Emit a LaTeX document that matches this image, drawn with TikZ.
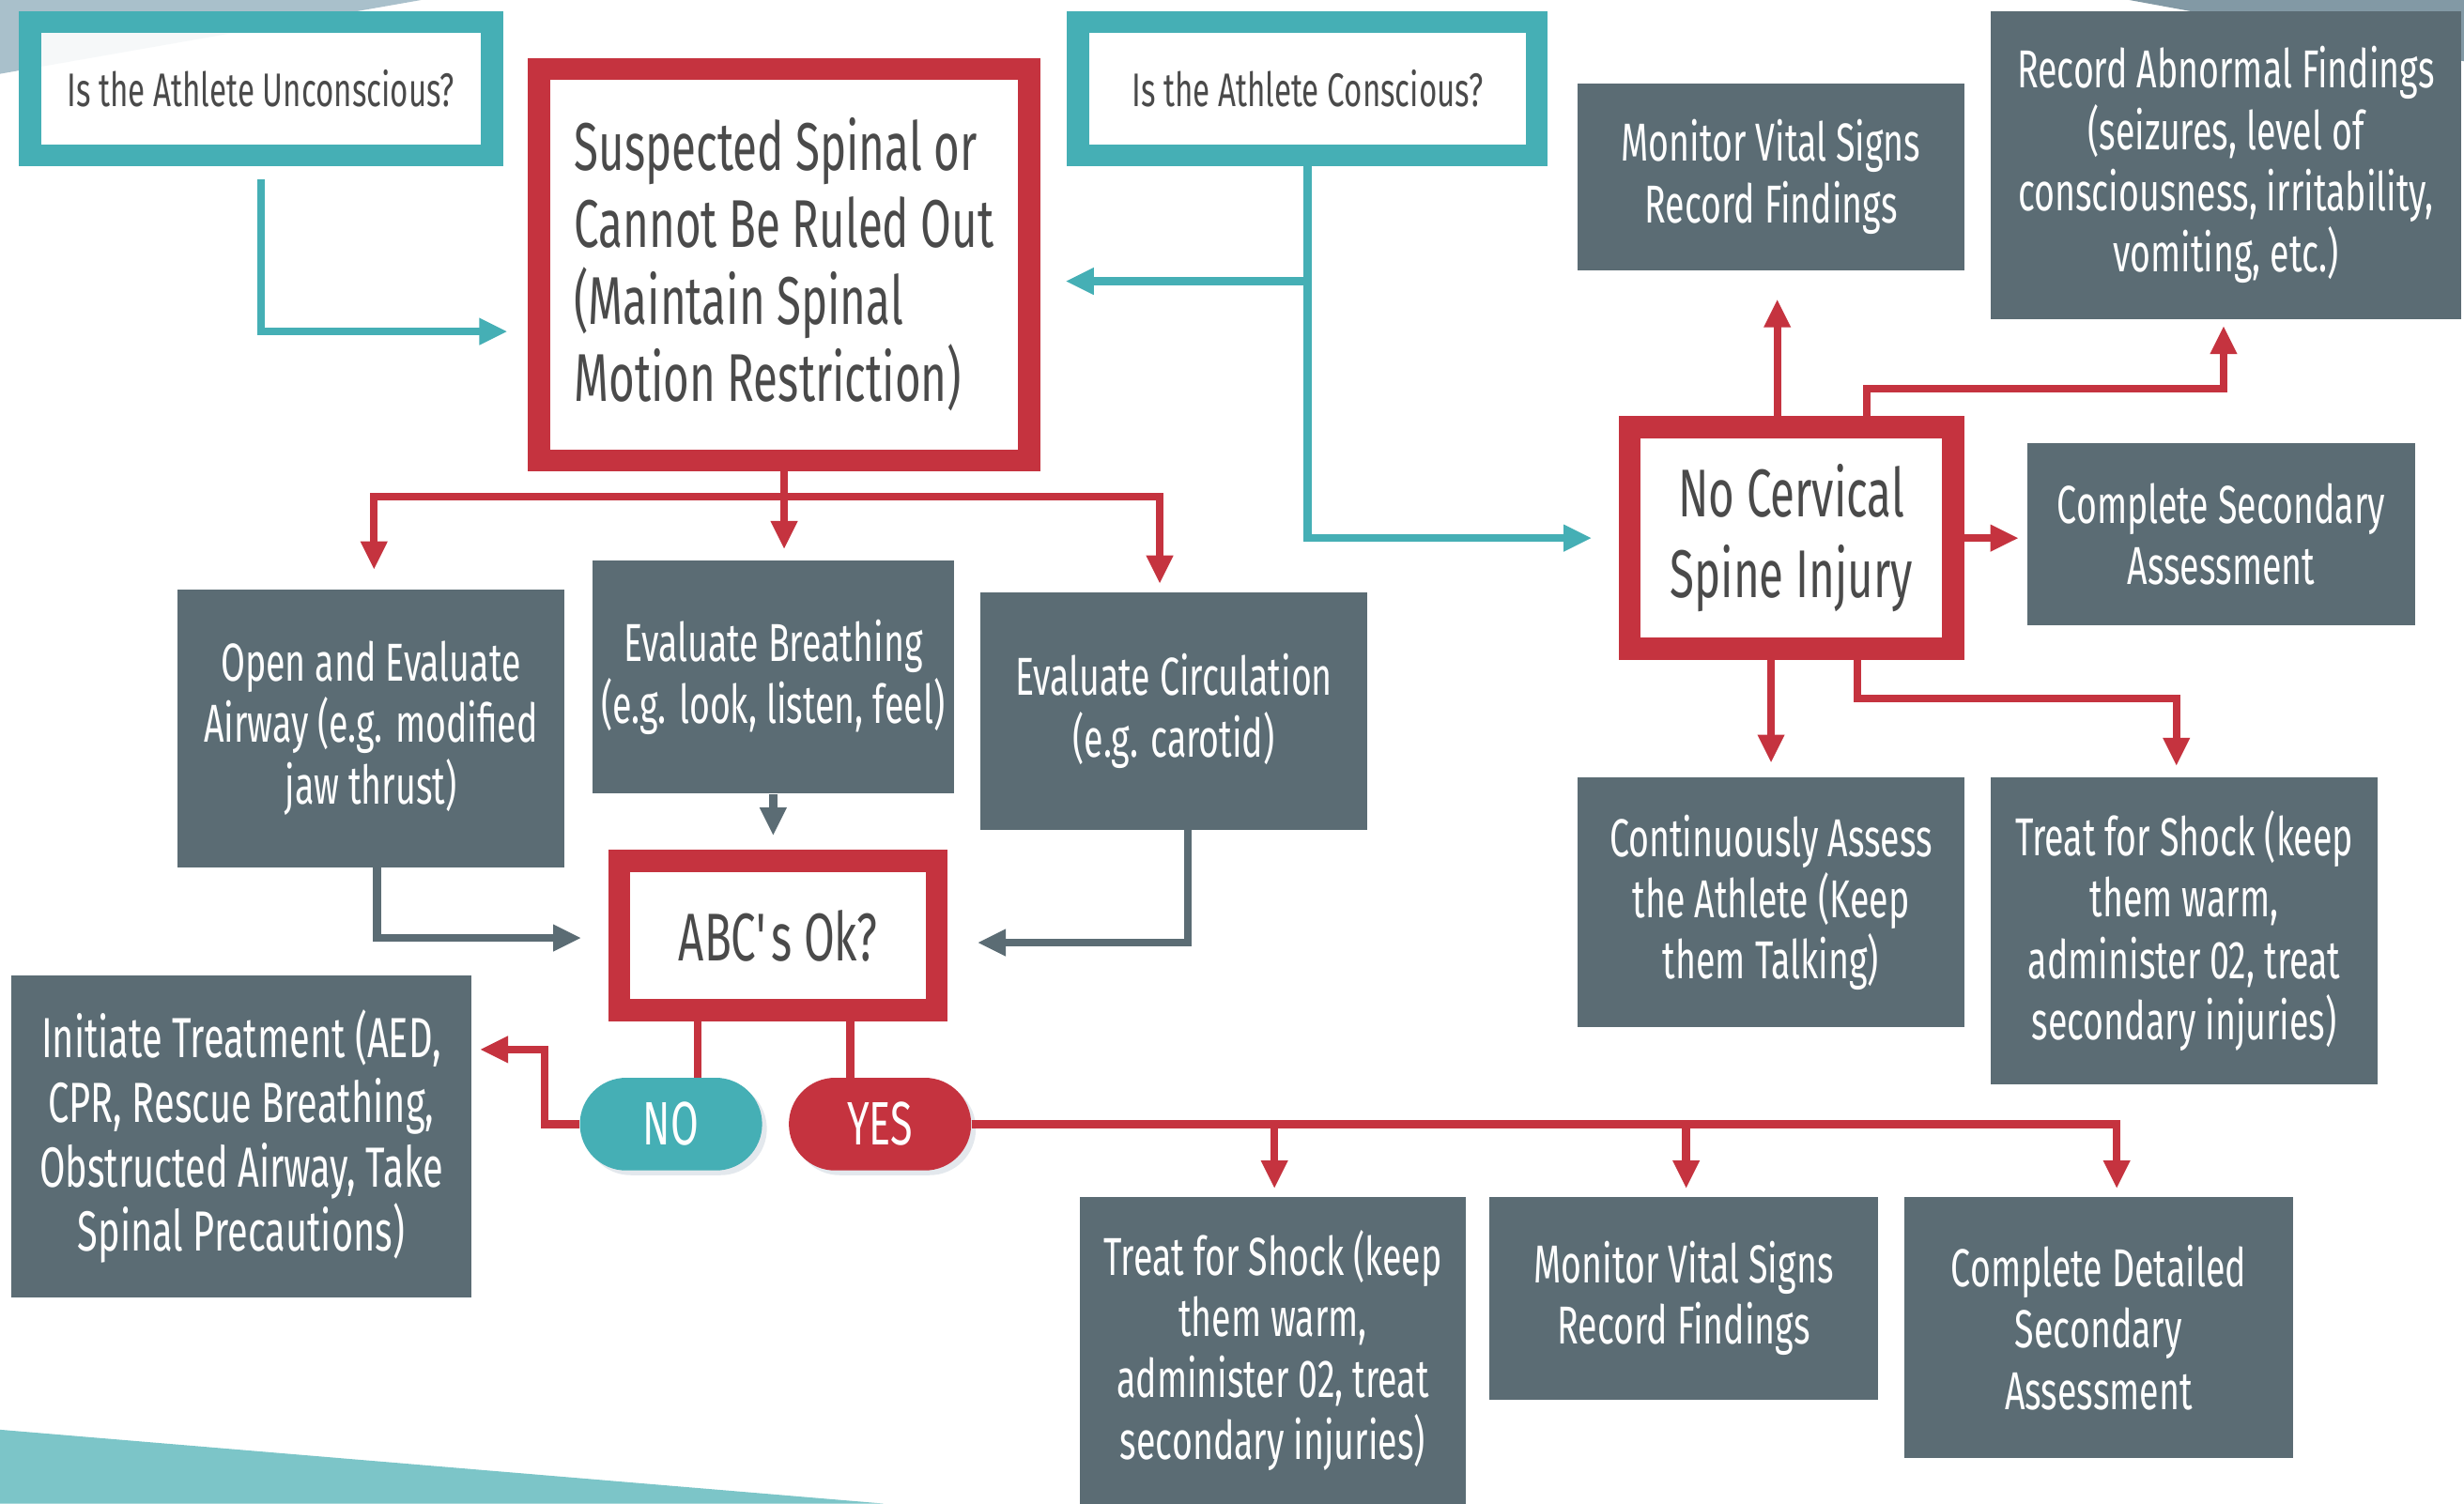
\documentclass[tikz,border=0pt]{standalone}
\usepackage{fontspec}
\setmainfont{Fira Sans}[FakeStretch=0.66]
\usetikzlibrary{arrows.meta,calc,shadows}
\definecolor{tealc}{HTML}{45AFB5}
\definecolor{redc}{HTML}{C5333F}
\definecolor{slatec}{HTML}{5B6C74}
\definecolor{inkc}{HTML}{4A4A4A}
\definecolor{shadowc}{HTML}{C9D3DC}
\definecolor{cornerc}{HTML}{A9C0CB}
\definecolor{cornerdk}{HTML}{8299A5}
\definecolor{wavec}{HTML}{7CC5C8}
\tikzset{
  qbox/.style={draw=tealc, line width=7pt, fill=white, fill opacity=0.9, text opacity=1,
    text=inkc, minimum width=147pt, minimum height=42.5pt,
    font=\fontsize{15}{18}\selectfont},
  redbox/.style={draw=redc, line width=7pt, fill=white, text=inkc,
    font=\fontsize{21.5}{24.5}\selectfont},
  greybox/.style={fill=slatec, text=white, align=center, inner sep=0pt,
    minimum width=123pt, font=\fontsize{17}{19.5}\selectfont},
  pill/.style={rounded corners=14.75pt, minimum width=58pt, minimum height=29.5pt,
    inner sep=0pt, text=white, font=\fontsize{19.5}{20}\selectfont,
    drop shadow={shadow xshift=1.5pt, shadow yshift=-1.5pt, fill=shadowc}},
  tealarr/.style={draw=tealc, line width=2.5pt, -{Triangle[length=9pt,width=8pt]}},
  redline/.style={draw=redc, line width=2.5pt},
  redarr/.style={redline, -{Triangle[length=9pt,width=8pt]}},
  greyarr/.style={draw=slatec, line width=2.5pt, -{Triangle[length=9pt,width=8pt]}}
}
\begin{document}
\begin{tikzpicture}[x=0.5pt, y=-0.5pt]
  \useasboundingbox (0,0) rectangle (1568,957);
  \fill[white] (0,0) rectangle (1568,957);
  \fill[cornerc] (0,0) -- (268,0) -- (0,47) -- cycle;
  \fill[cornerdk] (1355,0) -- (1568,0) -- (1568,39) -- cycle;
  \fill[wavec] (0,910) -- (562,957) -- (0,957) -- cycle;

  \node[qbox] (unc) at (166,56.5) {Is the Athlete Unconscious?};
  \node[qbox, minimum width=146pt] (con) at (832,56.5) {Is the Athlete Conscious?};
  \node[redbox, align=left, minimum width=156pt, minimum height=124.5pt] (susp) at (499,168.5)
    {Suspected Spinal or\\Cannot Be Ruled Out\\(Maintain Spinal\\Motion Restriction)};
  \node[redbox, align=center, minimum width=103pt, minimum height=70.5pt,
    font=\fontsize{21.5}{25.5}\selectfont] (nocerv) at (1140,342.5) {No Cervical\\Spine Injury};
  \node[redbox, minimum width=101pt, minimum height=47.5pt] (abc) at (495,595.5)
    {ABC\textquotesingle s Ok?};

  \node[greybox, minimum height=59.5pt] (mon1) at (1127,112.5) {Monitor Vital Signs\\Record Findings};
  \node[greybox, minimum width=149.5pt, minimum height=98pt] (rec) at (1416.5,105)
    {Record Abnormal Findings\\(seizures, level of\\consciousness, irritability,\\vomiting, etc.)};
  \node[greybox, minimum width=123.5pt, minimum height=58pt] (compsec) at (1413.5,340)
    {Complete Secondary\\Assessment};
  \node[greybox, minimum height=88.5pt] (airway) at (236,463.5)
    {Open and Evaluate\\Airway (e.g. modified\\jaw thrust)};
  \node[greybox, minimum width=115pt, minimum height=74pt] (breath) at (492,431)
    {Evaluate Breathing\\(e.g. look, listen, feel)};
  \node[greybox, minimum height=75.5pt] (circ) at (747,452.5) {Evaluate Circulation\\(e.g. carotid)};
  \node[greybox, minimum height=79.5pt] (cont) at (1127,574.5)
    {Continuously Assess\\the Athlete (Keep\\them Talking)};
  \node[greybox, minimum height=97.5pt] (shock1) at (1390,592.5)
    {Treat for Shock (keep\\them warm,\\administer 02, treat\\secondary injuries)};
  \node[greybox, minimum width=146.5pt, minimum height=102.5pt,
    font=\fontsize{18}{20.5}\selectfont] (init) at (153.5,723.5)
    {Initiate Treatment (AED,\\CPR, Rescue Breathing,\\Obstructed Airway, Take\\Spinal Precautions)};
  \node[greybox, minimum height=97.5pt] (shock2) at (810,859.5)
    {Treat for Shock (keep\\them warm,\\administer 02, treat\\secondary injuries)};
  \node[greybox, minimum width=123.5pt, minimum height=64.5pt] (mon2) at (1071.5,826.5)
    {Monitor Vital Signs\\Record Findings};
  \node[greybox, minimum width=123.5pt, minimum height=83pt] (detail) at (1335.5,845)
    {Complete Detailed\\Secondary\\Assessment};

  \draw[redline] ($(abc.south)+(-51,0)$) -- ($(abc.south)+(-51,36)$);
  \draw[redline] ($(abc.south)+(46,0)$) -- ($(abc.south)+(46,36)$);
  \node[pill, fill=tealc] (no) at (427,715.5) {NO};
  \node[pill, fill=redc] (yes) at (560,715.5) {YES};

  \draw[tealarr] ([yshift=-4pt]unc.south) |- ($(susp.west)+(-13,42.5)$);
  \draw[tealarr] (con.south) |- ($(nocerv.west)+(-17,0)$);
  \draw[tealarr] ($(con.south |- susp.east)+(0,10.5)$) -- ($(susp.east)+(16,10.5)$);

  \coordinate (sb) at ($(susp.south)+(0,16)$);
  \draw[redarr] (sb) -| ($(airway.north)+(2,-12)$);
  \draw[redarr] (sb) -| ($(circ.north)+(-9,-5)$);
  \draw[redarr] (susp.south) -- ($(susp.south |- breath.north)+(0,-7)$);

  \draw[redarr] ($(nocerv.north)+(-9,0)$) -- ($(nocerv.north |- mon1.south)+(-9,18)$);
  \draw[redarr] ($(nocerv.north)+(48,0)$) |- ($(rec.south)+(-1.5,44)$) -- ($(rec.south)+(-1.5,4)$);
  \draw[redarr] (nocerv.east) -- ($(nocerv.east -| compsec.west)+(-5,0)$);
  \draw[redarr] (nocerv.south -| cont.north) -- ($(cont.north)+(0,-9)$);
  \draw[redarr] ($(nocerv.south)+(42,0)$) |- ($(shock1.north)+(-5,-50)$) -- ($(shock1.north)+(-5,-7)$);

  \draw[redarr] (no.west) -- ++(-22,0) |- ($(init.east)+(5,-55.5)$);
  \draw[redarr] (yes.east) -| ($(shock2.north)+(1,-5)$);
  \draw[redarr] (yes.east) -| ($(mon2.north)+(1.5,-5)$);
  \draw[redarr] (yes.east) -| ($(detail.north)+(11.5,-5)$);

  \draw[greyarr] ($(airway.south)+(4,0)$) |- ($(abc.west)+(-17,1.5)$);
  \draw[greyarr] (breath.south) -- ($(breath.south |- abc.north)+(0,-9)$);
  \draw[greyarr] ($(circ.south)+(9,0)$) |- ($(abc.east)+(19,4.5)$);
\end{tikzpicture}
\end{document}
